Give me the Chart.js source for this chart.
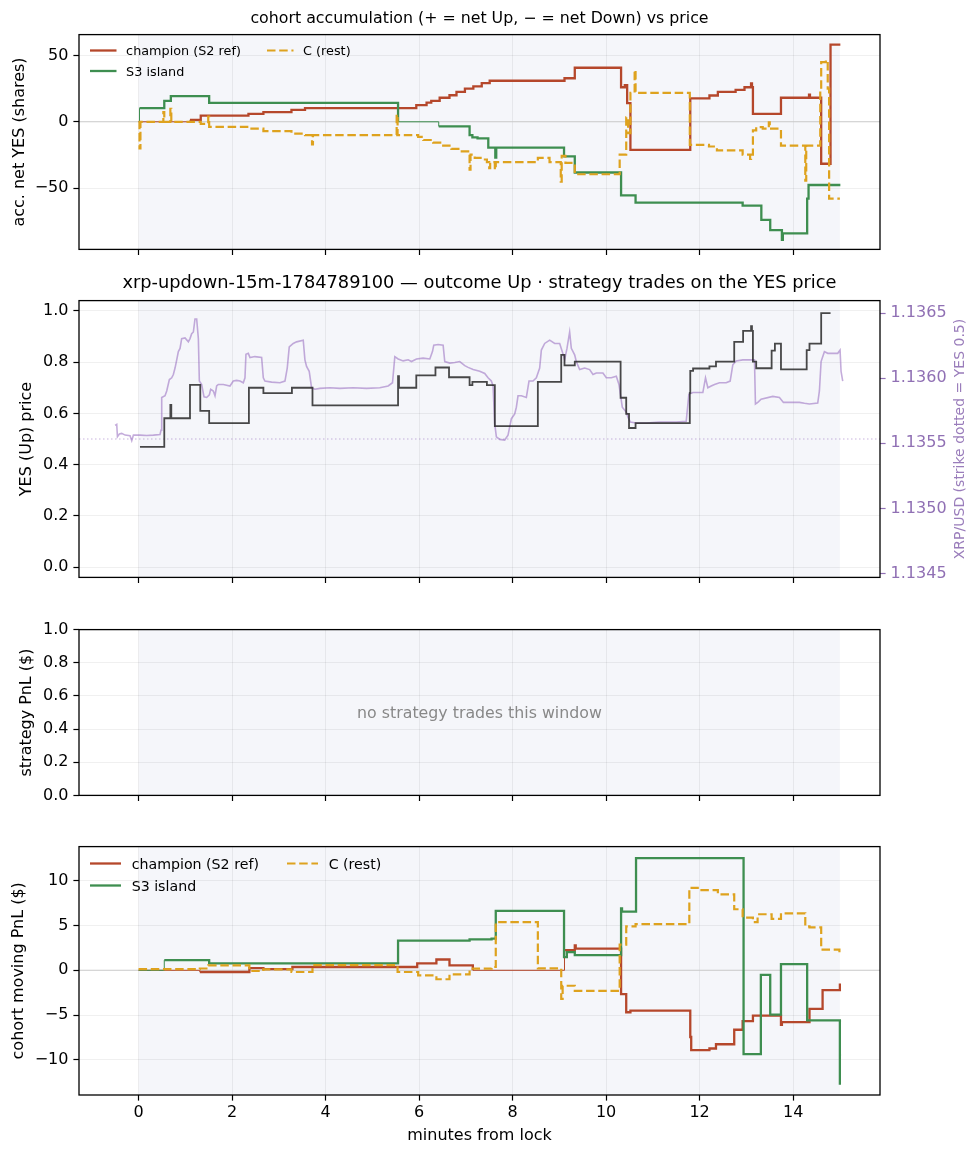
<!DOCTYPE html>
<html>
<head>
<meta charset="utf-8">
<script src="https://cdn.jsdelivr.net/npm/chart.js@4.4.1/dist/chart.umd.min.js"></script>
<style>
body { margin: 0; background: #fff; }
#page { position: relative; width: 978px; height: 1156px; overflow: hidden; }
#page canvas { position: absolute; left: 0; }
#overlay { position: absolute; left: 0; top: 0; pointer-events: none; }
#overlay text { font-family: 'DejaVu Sans'; }
</style>
</head>
<body>
<div id="page">
  <canvas id="chartAcc" width="978" height="244" style="top:20px;width:978px;height:244px"></canvas>
  <canvas id="chartPrice" width="978" height="306" style="top:286px;width:978px;height:306px"></canvas>
  <canvas id="chartStrat" width="978" height="195" style="top:615px;width:978px;height:195px"></canvas>
  <canvas id="chartPnl" width="978" height="318" style="top:832px;width:978px;height:318px"></canvas>
  <svg id="overlay" width="978" height="1156">
    <text x="479.5" y="23" font-size="15.8" text-anchor="middle">cohort accumulation (+ = net Up, − = net Down) vs price</text>
    <text x="479.5" y="288" font-size="17.8" text-anchor="middle">xrp-updown-15m-1784789100 — outcome Up · strategy trades on the YES price</text>
    <text x="479.5" y="712" font-size="15.8" fill="#888" text-anchor="middle" dominant-baseline="central">no strategy trades this window</text>
    <text transform="translate(959,439) rotate(-90)" font-size="14" fill="#9a7dbb" text-anchor="middle" dominant-baseline="central">XRP/USD (strike dotted = YES 0.5)</text>
    <g id="legendAcc"></g>
    <g id="legendPnl"></g>
  </svg>
</div>
<script>
// x axis: minutes from lock
var minuteTicks = [0, 2, 4, 6, 8, 10, 12, 14];
var shadeSpan = [0, 15];
var xMin = -1.274, xMax = 15.858;

// panel 1: accumulated net YES shares [minute, shares]
var accTicks = [-50, 0, 50];
var accChampion = [[0,0],[1.1,1.5],[1.33,4.6],[2.35,5.9],[2.67,7.3],[3.27,9.0],[3.56,10.3],[5.94,12.5],[6.16,14.4],[6.26,15.7],[6.44,18.1],[6.65,20.0],[6.8,22.5],[6.98,25.0],[7.16,26.7],[7.34,29.1],[7.51,30.9],[9.11,32.8],[9.33,40.7],[10.32,26.0],[10.4,27.5],[10.45,14.0],[10.52,-21.1],[11.8,17.6],[12.21,19.8],[12.39,22.5],[12.77,24.0],[12.96,26.0],[13.1,29.0],[13.12,26.0],[13.14,5.9],[13.74,18.1],[14.34,20.5],[14.36,18.1],[14.6,-31.6],[14.8,58.1],[15.01,58.1]];
var accS3 = [[0,0],[0.02,10.3],[0.55,15.7],[0.69,19.3],[1.51,14.2],[5.55,0],[6.42,-3.5],[7.08,-10.0],[7.14,-11.8],[7.25,-12.5],[7.48,-19.4],[7.63,-27.0],[7.65,-19.4],[9.1,-26.0],[9.33,-38.2],[10.32,-55.4],[10.63,-60.8],[12.92,-63.2],[13.32,-73.8],[13.51,-81.6],[13.76,-89.0],[13.78,-84.1],[14.3,-57.9],[14.33,-47.6],[15.01,-47.6]];
var accRest = [[0,0],[0.02,-20.0],[0.04,0],[0.53,7.3],[0.55,0],[0.68,9.8],[0.7,0],[1.33,-1.5],[1.49,4.0],[1.51,-3.9],[2.35,-5.2],[2.67,-7.1],[3.27,-8.9],[3.56,-10.0],[3.71,-17.0],[3.73,-10.0],[5.52,5.5],[5.54,-10.0],[5.98,-11.3],[6.09,-13.7],[6.3,-15.7],[6.48,-17.9],[6.69,-20.4],[6.87,-22.3],[7.05,-24.8],[7.08,-36.0],[7.1,-24.8],[7.19,-27.2],[7.37,-28.4],[7.45,-30.4],[7.5,-35.0],[7.52,-30.4],[7.62,-36.0],[7.64,-30.4],[8.54,-27.2],[8.79,-30.4],[9.03,-45.0],[9.05,-25.6],[9.13,-31.0],[9.33,-39.5],[10.29,-24.8],[10.43,3.4],[10.47,-8.5],[10.52,21.8],[10.61,39.0],[10.63,21.8],[11.79,-17.4],[12.2,-18.6],[12.37,-21.6],[12.92,-24.8],[13.08,-28.0],[13.1,-24.8],[13.14,-6.4],[13.21,-4.0],[13.35,-5.2],[13.48,-0.5],[13.5,-5.2],[13.74,-17.9],[14.26,-44.4],[14.28,-17.9],[14.58,23.0],[14.6,45.0],[14.7,46.3],[14.74,25.0],[14.77,-57.9],[15.0,-57.9]];

// panel 2: YES price (left) and XRP/USD (right)
var yesTicks = [0, 0.2, 0.4, 0.6, 0.8, 1.0];
var xrpTicks = [1.1345, 1.1350, 1.1355, 1.1360, 1.1365];
var strikeYes = 0.5;
var yesPrice = [[0.03,0.469],[0.55,0.581],[0.68,0.633],[0.7,0.581],[1.1,0.711],[1.32,0.61],[1.51,0.562],[2.36,0.7],[2.67,0.679],[3.28,0.7],[3.72,0.631],[5.55,0.745],[5.57,0.7],[5.94,0.748],[6.35,0.779],[6.64,0.741],[7.08,0.71],[7.14,0.723],[7.45,0.71],[7.62,0.55],[8.54,0.723],[9.04,0.828],[9.11,0.787],[9.33,0.802],[10.31,0.661],[10.43,0.598],[10.49,0.543],[10.63,0.562],[11.79,0.68],[11.8,0.766],[11.86,0.775],[12.21,0.783],[12.35,0.802],[12.74,0.879],[12.93,0.922],[13.1,0.94],[13.12,0.922],[13.14,0.802],[13.21,0.776],[13.54,0.845],[13.61,0.872],[13.74,0.772],[14.29,0.847],[14.35,0.872],[14.6,0.991],[14.8,0.991]];
var xrpPrice = [[-0.502,1.135638],[-0.467,1.135646],[-0.452,1.13555],[-0.41,1.135571],[-0.36,1.135576],[-0.288,1.135563],[-0.182,1.135558],[-0.146,1.13552],[-0.11,1.135563],[0.032,1.135563],[0.175,1.13556],[0.317,1.135563],[0.459,1.135568],[0.481,1.135601],[0.495,1.135852],[0.566,1.135865],[0.602,1.135902],[0.659,1.13599],[0.709,1.136003],[0.744,1.136028],[0.78,1.136078],[0.816,1.136141],[0.851,1.136204],[0.887,1.136229],[0.922,1.136304],[0.994,1.136309],[1.065,1.136279],[1.1,1.136304],[1.136,1.136342],[1.172,1.136355],[1.207,1.136455],[1.243,1.136455],[1.279,1.136304],[1.3,1.135978],[1.35,1.135952],[1.4,1.135857],[1.457,1.135852],[1.514,1.135872],[1.542,1.135915],[1.599,1.135902],[1.635,1.135865],[1.67,1.13594],[1.706,1.135952],[1.813,1.135952],[1.955,1.13594],[2.026,1.135978],[2.098,1.135983],[2.169,1.135978],[2.24,1.135965],[2.276,1.136003],[2.297,1.136184],[2.347,1.136191],[2.383,1.136159],[2.489,1.136166],[2.632,1.136159],[2.668,1.136003],[2.703,1.135978],[2.846,1.13597],[3.024,1.135965],[3.131,1.135978],[3.18,1.136078],[3.223,1.136241],[3.308,1.136267],[3.38,1.136279],[3.522,1.136292],[3.558,1.136141],[3.593,1.136091],[3.65,1.136053],[3.7,1.135927],[3.771,1.135915],[3.878,1.135922],[4.092,1.135927],[4.306,1.135922],[4.59,1.135927],[4.875,1.135922],[5.16,1.135927],[5.338,1.13594],[5.431,1.135965],[5.481,1.136166],[5.552,1.136148],[5.659,1.136133],[5.766,1.136141],[5.837,1.136128],[5.944,1.136148],[6.086,1.136154],[6.229,1.136148],[6.286,1.136204],[6.314,1.136254],[6.407,1.136259],[6.514,1.136254],[6.549,1.136128],[6.656,1.136116],[6.763,1.136121],[6.87,1.136128],[6.977,1.136096],[7.048,1.136083],[7.155,1.136066],[7.297,1.136053],[7.404,1.136036],[7.475,1.136003],[7.546,1.135978],[7.582,1.13594],[7.617,1.135651],[7.653,1.13555],[7.724,1.13553],[7.831,1.135525],[7.902,1.135563],[7.938,1.135626],[7.974,1.135689],[8.045,1.135726],[8.08,1.135777],[8.116,1.135865],[8.187,1.135865],[8.294,1.135852],[8.351,1.135978],[8.436,1.135978],[8.508,1.136003],[8.579,1.136078],[8.615,1.136216],[8.686,1.136267],[8.793,1.136292],[8.9,1.136267],[9.007,1.136267],[9.063,1.136204],[9.113,1.136141],[9.163,1.136229],[9.22,1.136355],[9.256,1.136229],[9.327,1.136179],[9.362,1.136128],[9.434,1.136066],[9.541,1.136078],[9.648,1.136066],[9.719,1.136028],[9.79,1.13604],[9.932,1.13604],[10.004,1.136003],[10.111,1.136003],[10.218,1.136015],[10.275,1.135952],[10.346,1.135777],[10.432,1.135739],[10.467,1.135701],[10.517,1.135664],[10.645,1.135656],[10.859,1.135656],[11.144,1.135664],[11.286,1.135664],[11.5,1.135664],[11.713,1.135669],[11.77,1.135877],[11.855,1.13589],[12.069,1.13589],[12.126,1.136003],[12.176,1.135927],[12.247,1.13594],[12.318,1.135952],[12.425,1.135965],[12.568,1.135965],[12.653,1.135978],[12.71,1.136103],[12.781,1.136133],[12.924,1.136141],[13.173,1.136141],[13.194,1.135802],[13.244,1.135814],[13.315,1.135839],[13.565,1.13586],[13.707,1.135852],[13.793,1.135814],[13.992,1.135814],[14.135,1.135814],[14.242,1.135807],[14.348,1.135802],[14.526,1.135809],[14.562,1.135902],[14.598,1.136128],[14.669,1.136204],[14.74,1.136191],[14.847,1.136191],[14.954,1.136191],[15.004,1.136216],[15.025,1.136053],[15.061,1.135978]];

// panel 3: strategy PnL (no trades)
var stratTicks = [0, 0.2, 0.4, 0.6, 0.8, 1.0];

// panel 4: cohort moving PnL ($)
var pnlTicks = [-10, -5, 0, 5, 10];
var pnlChampion = [[0,0],[1.31,-0.19],[2.37,0.25],[2.67,0.14],[3.29,0.37],[5.96,0.77],[6.37,1.21],[6.65,0.55],[7.15,0],[9.11,2.25],[9.33,2.8],[9.35,2.43],[10.32,-2.66],[10.43,-4.69],[10.52,-4.5],[11.8,-7.46],[11.82,-8.93],[12.21,-8.75],[12.35,-8.27],[12.74,-6.65],[12.92,-5.69],[13.14,-5.06],[13.74,-6.1],[13.76,-5.8],[14.35,-4.32],[14.63,-2.22],[15.0,-1.48]];
var pnlS3 = [[0,0],[0.55,1.14],[1.51,0.77],[5.55,3.32],[7.08,3.47],[7.55,3.54],[7.64,6.64],[9.1,1.47],[9.16,2.03],[9.33,1.69],[10.32,6.94],[10.34,6.57],[10.64,12.55],[12.94,-9.38],[13.31,-0.52],[13.51,-4.95],[13.74,0.7],[14.3,-5.61],[15.0,-12.8]];
var pnlRest = [[0,0.14],[1.31,0.2],[1.49,0.55],[2.37,-0.08],[2.67,0.1],[3.27,-0.19],[3.72,0.59],[5.54,-0.19],[5.98,-0.56],[6.37,-1.0],[6.65,-0.45],[7.08,0.18],[7.55,0.37],[7.64,5.39],[8.54,0.22],[9.04,-3.21],[9.07,-1.73],[9.33,-2.29],[10.29,2.88],[10.43,4.91],[10.63,5.16],[11.78,9.23],[11.96,8.97],[12.39,8.49],[12.74,6.83],[12.92,5.9],[13.14,5.39],[13.24,6.27],[13.54,5.76],[13.74,6.38],[14.26,4.91],[14.35,4.8],[14.6,2.32],[14.99,1.95]];

var cohortNames = ['champion (S2 ref)', 'S3 island', 'C (rest)'];

var champColor = '#b5472b';
var s3Color = '#3e8e50';
var restColor = '#dea21e';
var purple = '#9070b4';
var restDash = [8.5, 3.7];

Chart.defaults.font.family = 'DejaVu Sans';
Chart.defaults.font.size = 16;
Chart.defaults.color = '#000';

function pts(arr) {
    return arr.map(function(p) { return {x: p[0], y: p[1]}; });
}

function fixTicks(values) {
    return function(scale) {
        scale.ticks = values.map(function(v) { return {value: v}; });
    };
}

function minus(v) {
    return String(v).replace('-', '\u2212');
}

// thin line where the cohort holds nothing
function zeroThin(ctx) {
    return ctx.p0.parsed.y === 0 ? 1 : 2.3;
}

var panelPlugin = {
    id: 'panel',
    beforeDraw: function(chart) {
        var a = chart.chartArea, ctx = chart.ctx, x = chart.scales.x;
        var x0 = x.getPixelForValue(shadeSpan[0]);
        var x1 = x.getPixelForValue(shadeSpan[1]);
        ctx.save();
        ctx.fillStyle = '#f5f6fa';
        ctx.fillRect(x0, a.top, x1 - x0, a.bottom - a.top);
        ctx.restore();
    },
    beforeDatasetsDraw: function(chart, args, opts) {
        var a = chart.chartArea, ctx = chart.ctx;
        (opts.lines || []).forEach(function(l) {
            var y = chart.scales[l.axis].getPixelForValue(l.value);
            ctx.save();
            ctx.strokeStyle = l.color;
            ctx.lineWidth = l.width;
            ctx.setLineDash(l.dash || []);
            ctx.beginPath();
            ctx.moveTo(a.left, y);
            ctx.lineTo(a.right, y);
            ctx.stroke();
            ctx.restore();
        });
    },
    afterDatasetsDraw: function(chart) {
        var a = chart.chartArea, ctx = chart.ctx;
        ctx.save();
        ctx.strokeStyle = '#000';
        ctx.lineWidth = 1.3;
        ctx.strokeRect(a.left, a.top, a.right - a.left, a.bottom - a.top);
        ctx.restore();
    }
};

var gridColor = 'rgba(0,0,0,0.075)';

function xAxis(showLabels) {
    return {
        type: 'linear', min: xMin, max: xMax,
        border: {display: false},
        grid: {color: gridColor, lineWidth: 0.8, tickLength: 5.6, tickColor: '#000', tickWidth: 1.2},
        ticks: {display: showLabels, padding: 3, maxRotation: 0, autoSkip: false, font: {size: 16}},
        title: {display: showLabels, text: 'minutes from lock', font: {size: 16}, padding: {top: 0, bottom: 4.4}},
        afterBuildTicks: fixTicks(minuteTicks),
        afterFit: function(s) { s.height = showLabels ? 55 : 12; }
    };
}

function yAxis(min, max, ticks, label, titlePad, fmt) {
    return {
        type: 'linear', min: min, max: max,
        border: {display: false},
        grid: {color: gridColor, lineWidth: 0.8, tickLength: 5.6, tickColor: '#000', tickWidth: 1.2},
        ticks: {padding: 5, font: {size: 16}, callback: fmt},
        title: {display: true, text: label, font: {size: 16}, padding: {top: titlePad, bottom: 0}},
        afterBuildTicks: fixTicks(ticks),
        afterFit: function(s) { s.width = 79; }
    };
}

function cohortSets(champ, s3, rest) {
    return [{
        label: cohortNames[2], data: pts(rest), yAxisID: 'y',
        borderColor: restColor, borderWidth: 2.2, borderDash: restDash, stepped: 'before', pointRadius: 0
    }, {
        label: cohortNames[1], data: pts(s3), yAxisID: 'y',
        borderColor: s3Color, borderWidth: 2.3, stepped: 'before', pointRadius: 0,
        segment: {borderWidth: zeroThin}
    }, {
        label: cohortNames[0], data: pts(champ), yAxisID: 'y',
        borderColor: champColor, borderWidth: 2.3, stepped: 'before', pointRadius: 0,
        segment: {borderWidth: zeroThin}
    }];
}

function baseOptions(padRight) {
    return {
        responsive: false,
        animation: false,
        events: [],
        layout: {padding: {top: 12, left: 0, right: padRight, bottom: 0}},
        plugins: {legend: {display: false}, tooltip: {enabled: false}, panel: {}}
    };
}

// panel 1
var optAcc = baseOptions(98);
optAcc.scales = {x: xAxis(false), y: yAxis(-96.1, 65.66, accTicks, 'acc. net YES (shares)', 10, minus)};
optAcc.plugins.panel = {lines: [{axis: 'y', value: 0, color: '#cccccc', width: 1.1}]};
var chartAcc = new Chart(document.getElementById('chartAcc'), {
    type: 'line',
    data: {datasets: cohortSets(accChampion, accS3, accRest)},
    options: optAcc,
    plugins: [panelPlugin]
});

// panel 2
var optPrice = baseOptions(0);
optPrice.scales = {
    x: xAxis(false),
    y: yAxis(-0.04, 1.04, yesTicks, 'YES (Up) price', 17, function(v) { return v.toFixed(1); }),
    yR: {
        type: 'linear', position: 'right', min: 1.13447, max: 1.136596,
        border: {display: false},
        grid: {drawOnChartArea: false, tickLength: 5.6, tickColor: purple, tickWidth: 1.2},
        ticks: {padding: 5, color: purple, font: {size: 16}, callback: function(v) { return v.toFixed(4); }},
        afterBuildTicks: fixTicks(xrpTicks),
        afterFit: function(s) { s.width = 98; }
    }
};
optPrice.plugins.panel = {lines: [{axis: 'y', value: strikeYes, color: 'rgba(148,103,189,0.5)', width: 1.1, dash: [1.5, 2.5]}]};
var chartPrice = new Chart(document.getElementById('chartPrice'), {
    type: 'line',
    data: {
        datasets: [{
            label: 'YES price', data: pts(yesPrice), yAxisID: 'y',
            borderColor: 'rgba(40,40,40,0.85)', borderWidth: 1.8, stepped: 'before', pointRadius: 0
        }, {
            label: 'XRP/USD', data: pts(xrpPrice), yAxisID: 'yR',
            borderColor: 'rgba(148,103,189,0.55)', borderWidth: 1.6, pointRadius: 0, tension: 0
        }]
    },
    options: optPrice,
    plugins: [panelPlugin]
});

// panel 3
var optStrat = baseOptions(98);
optStrat.scales = {x: xAxis(false), y: yAxis(0, 1, stratTicks, 'strategy PnL ($)', 17.5, function(v) { return v.toFixed(1); })};
var chartStrat = new Chart(document.getElementById('chartStrat'), {
    type: 'line',
    data: {datasets: []},
    options: optStrat,
    plugins: [panelPlugin]
});

// panel 4
var optPnl = baseOptions(98);
optPnl.scales = {x: xAxis(true), y: yAxis(-13.95, 13.84, pnlTicks, 'cohort moving PnL ($)', 9.7, minus)};
optPnl.plugins.panel = {lines: [{axis: 'y', value: 0, color: '#cccccc', width: 1.1}]};
var chartPnl = new Chart(document.getElementById('chartPnl'), {
    type: 'line',
    data: {datasets: cohortSets(pnlChampion, pnlS3, pnlRest)},
    options: optPnl,
    plugins: [panelPlugin]
});

// legends: two columns, filled column by column
function drawLegend(groupId, rows, cols, fontSize, lineLen) {
    var g = document.getElementById(groupId);
    var ns = 'http://www.w3.org/2000/svg';
    var items = [
        {name: cohortNames[0], color: champColor, dash: null, col: 0, row: 0},
        {name: cohortNames[1], color: s3Color, dash: null, col: 0, row: 1},
        {name: cohortNames[2], color: restColor, dash: restDash.join(' '), col: 1, row: 0}
    ];
    items.forEach(function(it) {
        var x = cols[it.col], y = rows[it.row];
        var ln = document.createElementNS(ns, 'line');
        ln.setAttribute('x1', x); ln.setAttribute('x2', x + lineLen);
        ln.setAttribute('y1', y); ln.setAttribute('y2', y);
        ln.setAttribute('stroke', it.color);
        ln.setAttribute('stroke-width', it.dash ? 2.2 : 2.3);
        if (it.dash) ln.setAttribute('stroke-dasharray', it.dash);
        g.appendChild(ln);
        var t = document.createElementNS(ns, 'text');
        t.setAttribute('x', x + lineLen + fontSize * 0.75);
        t.setAttribute('y', y);
        t.setAttribute('font-size', fontSize);
        t.setAttribute('dominant-baseline', 'central');
        t.textContent = it.name;
        g.appendChild(t);
    });
}
drawLegend('legendAcc', [50.5, 71], [90, 267], 12.8, 26.5);
drawLegend('legendPnl', [863.5, 885.5], [90, 287], 14.2, 31);
</script>
</body>
</html>
